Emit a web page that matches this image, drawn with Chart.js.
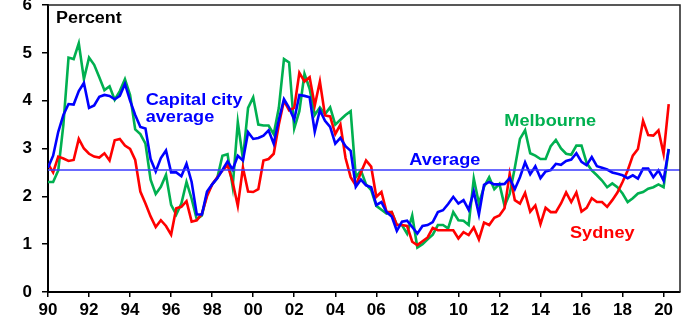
<!DOCTYPE html>
<html>
<head>
<meta charset="utf-8">
<script src="https://cdn.jsdelivr.net/npm/chart.js@4.4.1/dist/chart.umd.min.js"></script>
<style>
  html, body { margin: 0; padding: 0; background: #fff; }
  #wrap { width: 689px; height: 322px; }
</style>
</head>
<body>
<div id="wrap"><canvas id="chart" width="689" height="322"></canvas></div>
<script>
// quarterly series, first point 1990 Q1
const firstYear = 1990;

const capitalCity = [
    2.6, 2.85, 3.35, 3.7, 3.93, 3.92, 4.2, 4.37, 3.85, 3.9,
    4.08, 4.12, 4.1, 4.03, 4.1, 4.35, 4.0, 3.7, 3.45, 3.42,
    2.78, 2.52, 2.8, 2.96, 2.5, 2.5, 2.42, 2.68, 2.3, 1.62,
    1.62, 2.1, 2.25, 2.38, 2.55, 2.73, 2.56, 2.85, 2.75, 3.34,
    3.2, 3.22, 3.27, 3.38, 3.1, 3.6, 4.03, 3.85, 3.6, 4.12,
    4.1, 4.07, 3.35, 3.8, 3.58, 3.45, 3.1, 3.22, 3.05, 2.95,
    2.2, 2.35, 2.23, 2.19, 1.82, 1.88, 1.67, 1.58, 1.28, 1.47,
    1.49, 1.36, 1.22, 1.38, 1.4, 1.46, 1.67, 1.71, 1.84, 1.99,
    1.85, 1.92, 1.72, 2.1, 1.62, 2.24, 2.3, 2.25, 2.25, 2.26,
    2.38, 2.15, 2.4, 2.71, 2.46, 2.63, 2.38, 2.52, 2.55, 2.68,
    2.66, 2.74, 2.77, 2.9, 2.72, 2.65, 2.82, 2.63, 2.6, 2.56,
    2.5, 2.47, 2.44, 2.38, 2.44, 2.37, 2.58, 2.58, 2.4, 2.54,
    2.33, 2.99
];

const melbourne = [
    2.3, 2.3, 2.54, 3.5, 4.9, 4.87, 5.2, 4.45, 4.9, 4.75,
    4.49, 4.22, 4.3, 4.02, 4.2, 4.45, 4.12, 3.4, 3.3, 3.1,
    2.35, 2.05, 2.2, 2.45, 1.82, 1.62, 1.85, 2.3, 1.95, 1.52,
    1.6, 2.05, 2.25, 2.38, 2.85, 2.88, 2.2, 3.55, 2.78, 3.85,
    4.07, 3.5, 3.48, 3.48, 3.3, 3.85, 4.87, 4.8, 3.42, 3.78,
    4.56, 4.25, 3.7, 3.86, 3.72, 3.86, 3.5, 3.6, 3.7, 3.78,
    2.4, 2.54, 2.25, 2.13, 1.8, 1.72, 1.64, 1.67, 1.4, 1.4,
    1.22, 1.6, 0.93, 1.0, 1.1, 1.2, 1.4, 1.4, 1.33, 1.67,
    1.5, 1.49, 1.4, 2.37, 1.85, 2.2, 2.4, 2.15, 2.26, 1.8,
    2.05, 2.6, 3.2, 3.38, 2.9, 2.85, 2.78, 2.78, 3.05, 3.18,
    3.0, 2.89, 2.87, 3.06, 3.06, 2.7, 2.54, 2.44, 2.33, 2.19,
    2.27, 2.19, 2.06, 1.88, 1.96, 2.06, 2.09, 2.16, 2.19, 2.25,
    2.19, 2.99
];

const sydney = [
    2.68, 2.5, 2.83, 2.79, 2.74, 2.76, 3.2, 3.0, 2.89, 2.83,
    2.81, 2.9, 2.75, 3.17, 3.2, 3.06, 2.99, 2.76, 2.1, 1.85,
    1.58, 1.36, 1.5, 1.38, 1.2, 1.75, 1.78, 1.9, 1.47, 1.5,
    1.64, 2.0, 2.25, 2.4, 2.54, 2.65, 2.3, 1.8, 2.6, 2.1,
    2.09, 2.15, 2.75, 2.78, 2.89, 3.5, 4.0, 3.8, 3.85, 4.58,
    4.4, 4.49, 3.9, 4.4, 3.69, 3.67, 3.3, 3.5, 2.8, 2.4,
    2.23, 2.5, 2.75, 2.62, 1.99, 2.09, 1.67, 1.67, 1.4, 1.4,
    1.38, 1.05, 0.98, 1.06, 1.14, 1.34, 1.29, 1.29, 1.29, 1.29,
    1.12, 1.25, 1.19, 1.35, 1.1, 1.45, 1.4, 1.55, 1.6, 1.75,
    2.47, 1.92, 1.85, 2.07, 1.68, 1.81, 1.42, 1.76, 1.67, 1.67,
    1.85, 2.08, 1.88, 2.08, 1.68, 1.76, 1.96, 1.88, 1.88, 1.78,
    1.92, 2.08, 2.3, 2.54, 2.85, 2.99, 3.58, 3.28, 3.27, 3.38,
    2.89, 3.93
];

const longRunAverage = 2.55;

const xTickYears = [1990, 1992, 1994, 1996, 1998, 2000, 2002, 2004, 2006, 2008, 2010, 2012, 2014, 2016, 2018, 2020];
const xTickLabels = ['90', '92', '94', '96', '98', '00', '02', '04', '06', '08', '10', '12', '14', '16', '18', '20'];
const yTickLabels = ['0', '1', '2', '3', '4', '5', '6'];

const xMin = 1990;
const xMax = 2020.8;

const FONT = "'Liberation Sans', Arial, sans-serif";
const BLUE = '#0000ff';
const GREEN = '#00b050';
const RED = '#ff0000';

function toPoints(values) {
    return values.map((v, i) => ({ x: firstYear + i / 4, y: v }));
}

// text labels inside the plot: [text, colour, year, value]
const seriesLabels = [
    ['Capital city', BLUE, 1994.76, 3.9],
    ['average', BLUE, 1994.76, 3.56],
    ['Melbourne', GREEN, 2012.24, 3.46],
    ['Average', BLUE, 2007.61, 2.65],
    ['Sydney', RED, 2015.44, 1.13]
];

const labelPlugin = {
    id: 'labels',
    afterDatasetsDraw(chart) {
        const ctx = chart.ctx;
        const area = chart.chartArea;
        const xs = chart.scales.x;
        const ys = chart.scales.y;
        ctx.save();
        // top and right frame
        ctx.strokeStyle = '#222';
        ctx.lineWidth = 1.5;
        ctx.beginPath();
        ctx.moveTo(area.left, area.top);
        ctx.lineTo(area.right, area.top);
        ctx.lineTo(area.right, area.bottom);
        ctx.stroke();

        ctx.textBaseline = 'alphabetic';
        ctx.textAlign = 'left';
        ctx.font = 'bold 16px ' + FONT;
        ctx.fillStyle = '#000';
        drawStretched(ctx, 'Percent', area.left + 8, area.top + 18, 1.12);

        ctx.font = 'bold 16.5px ' + FONT;
        seriesLabels.forEach(([text, colour, yr, val]) => {
            ctx.fillStyle = colour;
            drawStretched(ctx, text, xs.getPixelForValue(yr), ys.getPixelForValue(val), 1.1);
        });
        ctx.restore();
    }
};

function drawStretched(ctx, text, x, y, sx) {
    ctx.save();
    ctx.translate(x, y);
    ctx.scale(sx, 1);
    ctx.fillText(text, 0, 0);
    ctx.restore();
}

const lineStyle = {
    borderWidth: 2.6,
    pointRadius: 0,
    tension: 0,
    fill: false
};

new Chart(document.getElementById('chart'), {
    type: 'line',
    data: {
        datasets: [
            { label: 'Average', data: [{ x: xMin, y: longRunAverage }, { x: xMax, y: longRunAverage }],
              borderColor: '#3a3aff', borderWidth: 1.6, pointRadius: 0 },
            Object.assign({ label: 'Capital city average', data: toPoints(capitalCity), borderColor: BLUE }, lineStyle),
            Object.assign({ label: 'Sydney', data: toPoints(sydney), borderColor: RED }, lineStyle),
            Object.assign({ label: 'Melbourne', data: toPoints(melbourne), borderColor: GREEN }, lineStyle)
        ]
    },
    options: {
        responsive: false,
        animation: false,
        layout: { autoPadding: false, padding: { top: 5, right: 9, left: 0, bottom: 0 } },
        plugins: {
            legend: { display: false },
            tooltip: { enabled: false }
        },
        scales: {
            x: {
                type: 'linear',
                min: xMin,
                max: xMax,
                afterBuildTicks: (axis) => { axis.ticks = xTickYears.map(v => ({ value: v })); },
                afterFit: (axis) => {
                    axis.height = 30;
                    axis.paddingLeft = 0;
                    axis.paddingRight = 0;
                },
                ticks: {
                    callback: (v, i) => xTickLabels[i],
                    autoSkip: false,
                    maxRotation: 0,
                    color: '#000',
                    padding: 3,
                    font: { family: FONT, size: 17, weight: 'bold' }
                },
                grid: { drawOnChartArea: false, drawTicks: true, tickLength: 5, color: '#000', lineWidth: 1.5 },
                border: { color: '#000', width: 2 }
            },
            y: {
                min: 0,
                max: 6,
                afterFit: (axis) => {
                    axis.width = 48;
                    axis.paddingTop = 0;
                    axis.paddingBottom = 0;
                },
                ticks: {
                    stepSize: 1,
                    callback: (v) => yTickLabels[v],
                    color: '#000',
                    padding: 10,
                    font: { family: FONT, size: 17, weight: 'bold' }
                },
                grid: { drawOnChartArea: false, drawTicks: true, tickLength: 6, color: '#000', lineWidth: 1.5 },
                border: { color: '#000', width: 2 }
            }
        }
    },
    plugins: [labelPlugin]
});
</script>
</body>
</html>
